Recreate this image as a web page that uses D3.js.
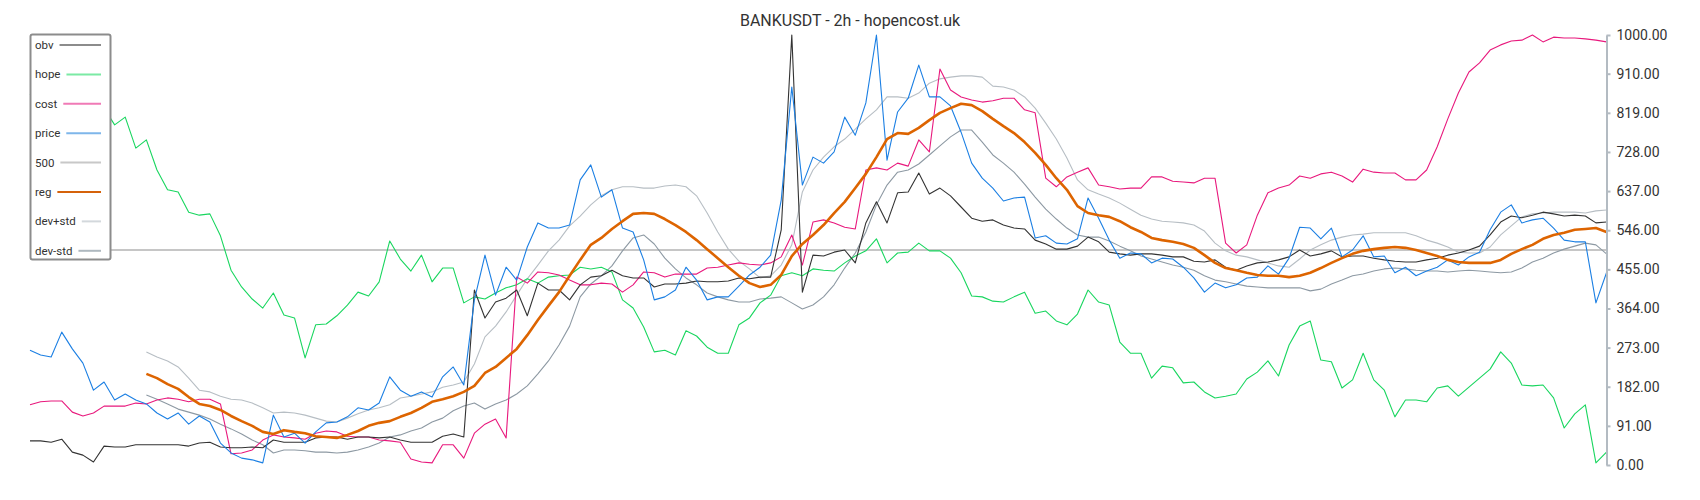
<!DOCTYPE html>
<html><head><meta charset="utf-8">
<script src="https://cdn.jsdelivr.net/npm/d3@7"></script>
<style>body{margin:0;background:#fff;} svg{display:block;font-family:Roboto,"Noto Sans",sans-serif;}</style>
</head><body><svg id="c" width="1700" height="500"></svg>
<script>
const titleText = "BANKUSDT - 2h - hopencost.uk";
const yTicks = [0,91,182,273,364,455,546,637,728,819,910,1000];
const legendNames = ["obv","hope","cost","price","500","reg","dev+std","dev-std"];
const levelValue = 500;

const obv = [56,56,53,60,30,23,7,44,42,42, 47,47,47,47,47,44,51,53,42,40,
 40,42,40,58,53,53,53,63,65,65, 60,65,65,63,65,58,53,53,53,67,
 72,65,407,342,379,388,407,347,423,407, 407,384,419,437,440,453,440,435,435,414,
 421,421,423,428,426,426,428,435,433,437, 437,547,1000,402,488,486,495,500,470,563,
 612,563,633,635,679,630,644,626,600,574, 567,570,558,551,549,523,514,502,502,509,
 530,519,495,491,488,491,491,488,484,484, 474,472,477,460,453,463,470,472,477,484,
 500,486,491,498,484,486,486,481,477,474, 472,472,477,481,488,493,500,509,535,565,
 579,575,581,588,584,579,581,579,563,565];

const hope = [860,880,850,870,835,860,820,830,791,809, 737,756,686,640,635,588,581,584,533,453,
 414,386,365,400,349,342,249,326,328,347, 372,402,393,426,521,479,451,488,426,458,
 458,377,391,386,400,412,419,433,423,437, 440,442,460,456,460,449,384,365,321,263,
 267,256,312,300,274,260,260,326,342,377, 395,440,447,440,456,453,451,470,486,498,
 526,470,493,495,516,498,498,481,447,393, 391,381,379,391,402,353,358,335,326,351,
 407,379,372,286,260,260,202,230,226,191, 193,170,156,160,165,200,216,242,207,279,
 323,335,244,240,179,198,260,198,174,112, 151,151,147,179,184,160,181,202,223,263,
 237,186,184,186,156,86,119,140,5,30];

const cost = [140,147,149,149,123,114,121,137,137,137, 144,142,151,156,153,147,153,153,142,26,
 28,35,58,70,65,63,60,74,79,77, 67,65,65,58,56,53,14,7,5,47,
 47,16,74,95,107,63,437,423,449,447, 442,430,419,419,423,421,402,419,449,447,
 437,444,444,444,458,460,465,470,467,465, 470,484,535,465,565,570,563,553,549,686,
 691,686,702,695,756,728,921,872,856,849, 844,847,853,853,826,819,667,647,670,681,
 691,651,647,642,644,644,670,670,660,658, 656,667,667,516,493,512,581,633,644,651,
 672,667,677,681,672,658,688,681,679,679, 663,663,686,740,805,865,914,935,965,977,
 986,988,1000,984,995,993,993,991,988,984];

const price = [267,256,251,309,270,237,174,193,151,165, 151,142,121,107,121,95,114,100,51,28,
 16,12,5,116,65,74,51,77,98,100, 112,133,128,144,205,174,160,170,158,205,
 228,186,384,488,395,460,430,507,563,551, 551,558,663,698,623,640,551,542,477,384,
 391,407,460,430,384,391,391,416,442,460, 488,616,879,651,716,702,728,809,767,842,
 1000,709,821,853,930,856,856,835,774,702, 667,644,614,621,623,528,533,516,514,526,
 621,574,523,481,493,491,470,481,479,460, 435,402,423,412,419,435,437,463,444,481,
 553,551,526,551,484,500,533,484,486,447, 460,440,451,460,477,465,484,495,547,588,
 605,563,570,574,551,523,519,519,377,447];

const reg = [null,null,null,null,null,null,null,null,null,null,null,
 212,202,188,177,158,142,137,128,114,
 102,91,77,72,81,77,74,67,65,63, 70,79,91,98,102,112,121,133,147,153,
 160,170,184,214,228,249,270,302,337,370, 402,440,477,512,528,549,567,584,586,584,
 572,558,542,523,502,481,460,440,423,414, 419,442,486,514,535,558,586,612,644,677,
 716,758,772,770,784,802,819,830,840,837, 823,805,788,772,751,726,698,667,640,602,
 586,581,577,567,553,542,528,523,519,514, 505,488,470,458,453,447,442,440,440,437,
 440,447,458,470,481,491,498,502,505,507, 505,500,493,486,477,472,470,470,470,477,
 491,502,512,526,535,540,547,549,551,542];

const devPlus = [null,null,null,null,null,null,null,null,null,null,null,
 263,251,242,228,202,174,170,160,153,
 151,144,133,121,123,121,116,109,102,100, 109,119,128,133,140,156,160,165,170,181,
 186,193,235,298,323,356,395,433,465,498, 523,556,579,605,626,640,647,647,644,644,
 649,651,647,626,586,542,502,474,456,435, 440,465,512,635,686,716,740,758,781,805,
 826,856,856,853,865,888,898,902,905,905, 902,881,879,872,856,830,795,758,714,663,
 640,630,621,609,595,581,572,567,565,563, 558,544,516,498,488,484,477,470,463,460,
 479,500,512,523,530,535,537,540,540,540, 540,533,523,516,507,495,493,493,507,535,
 556,577,584,586,588,588,588,586,591,593];

const devMinus = [null,null,null,null,null,null,null,null,null,null,null,
 163,153,142,130,123,116,107,95,84,
 72,58,47,28,35,35,33,30,30,28, 30,35,42,51,65,70,79,86,100,109,
 126,137,144,130,142,151,165,184,212,242, 279,323,391,421,440,463,498,528,535,514,
 481,456,435,419,400,391,384,379,379,386, 388,391,377,363,372,391,419,458,493,542,
 605,651,681,686,700,721,742,763,779,779, 751,721,702,681,653,623,595,572,551,535,
 530,530,521,509,498,486,479,472,465,460, 453,440,430,426,421,416,414,412,412,412,
 412,405,409,421,430,440,444,451,456,458, 456,453,451,451,449,451,453,451,449,447,
 449,458,472,481,493,502,509,516,512,491];

const N = price.length;
const svg = d3.select("#c");
const x = d3.scaleLinear().domain([0, N - 1]).range([30, 1606.5]);
const y = d3.scaleLinear().domain([0, 1000]).range([465, 35]);

const styles = {
  "obv":     {line:"#333333", w:1.1, sw:"#8c8c8c"},
  "hope":    {line:"#19d65f", w:1.1, sw:"#7beaa4"},
  "cost":    {line:"#e8197d", w:1.1, sw:"#f07ab6"},
  "price":   {line:"#1b7fe3", w:1.1, sw:"#7eb6ea"},
  "500":     {line:"#c6c6c6", w:2,   sw:"#c8c8c8"},
  "reg":     {line:"#dd6400", w:2.6, sw:"#d5620a"},
  "dev+std": {line:"#b7bec4", w:1.1, sw:"#d3d8dc"},
  "dev-std": {line:"#8d99a3", w:1.1, sw:"#aeb8bf"}
};

const line = d3.line().defined(d => d != null).x((d, i) => x(i)).y(d => y(d));
const g = svg.append("g");

g.append("line").attr("x1", x(0)).attr("x2", x(N - 1))
  .attr("y1", y(levelValue)).attr("y2", y(levelValue))
  .attr("stroke", styles["500"].line).attr("stroke-width", styles["500"].w);

const draw = (data, key) => g.append("path").datum(data).attr("d", line)
  .attr("fill", "none").attr("stroke", styles[key].line)
  .attr("stroke-width", styles[key].w).attr("stroke-linejoin", "round");

draw(devPlus, "dev+std");
draw(devMinus, "dev-std");
draw(hope, "hope");
draw(cost, "cost");
draw(obv, "obv");
draw(price, "price");
draw(reg, "reg");

const axis = d3.axisRight(y).tickValues(yTicks).tickFormat(d3.format(".2f"))
  .tickSize(4).tickPadding(6).tickSizeOuter(0);
const ag = svg.append("g").attr("transform", `translate(${x(N - 1)},0)`).call(axis);
ag.select(".domain").attr("stroke", "#b3bbc2").attr("stroke-width", 2);
ag.selectAll(".tick line").attr("stroke", "#b3bbc2").attr("stroke-width", 2);
ag.selectAll(".tick text").attr("fill", "#333").style("font-size", "14px")
  .style("font-family", "Roboto, 'Noto Sans', sans-serif");

svg.append("text").attr("x", 850).attr("y", 26).attr("text-anchor", "middle")
  .attr("fill", "#333").style("font-size", "16px").text(titleText);

const lg = svg.append("g");
lg.append("rect").attr("x", 30.5).attr("y", 34.5).attr("width", 80).attr("height", 225)
  .attr("rx", 2).attr("fill", "#fff").attr("stroke", "#8c8c8c").attr("stroke-width", 2);
legendNames.forEach((name, k) => {
  const cy = 45 + k * 29.4;
  const t = lg.append("text").attr("x", 35).attr("y", cy).attr("dy", "0.35em")
    .attr("fill", "#333").style("font-size", "11.5px").text(name);
  const tw = t.node().getComputedTextLength();
  lg.append("line").attr("x1", 35 + tw + 6).attr("x2", 101).attr("y1", cy).attr("y2", cy)
    .attr("stroke", styles[name].sw).attr("stroke-width", 2);
});
</script></body></html>
